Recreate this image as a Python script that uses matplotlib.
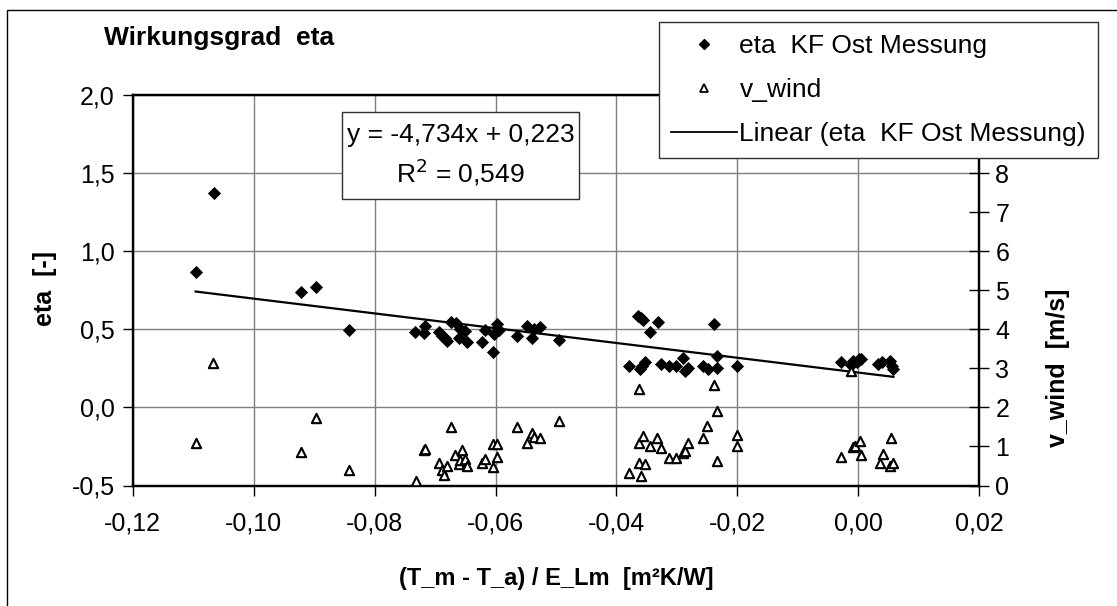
import matplotlib
matplotlib.use("Agg")
import matplotlib.pyplot as plt
from matplotlib.lines import Line2D
from matplotlib.patches import Rectangle
import numpy as np

plt.rcParams['font.family'] = ['Liberation Sans', 'DejaVu Sans']

# ---------------- data ----------------
eta_x = [-0.1096, -0.1066, -0.0922, -0.0897, -0.0842,
         -0.0733, -0.0719, -0.0716, -0.0694, -0.0688, -0.0684, -0.0680, -0.0673,
         -0.0666, -0.0661, -0.0658, -0.0650, -0.0647, -0.0623, -0.0617, -0.0604,
         -0.0602, -0.0597, -0.0595, -0.0564, -0.0548, -0.0540, -0.0537, -0.0527,
         -0.0495,
         -0.0380, -0.0364, -0.0360, -0.0356, -0.0361, -0.0357, -0.0352, -0.0345,
         -0.0332, -0.0326, -0.0313, -0.0302, -0.0290, -0.0286, -0.0282, -0.0257,
         -0.0249, -0.0239, -0.0233, -0.0233, -0.0200,
         -0.0029, -0.0012, -0.0009, -0.0003, 0.0001, 0.0005, 0.0033, 0.0039,
         0.0053, 0.0056, 0.0058]
eta_y = [0.864, 1.370, 0.736, 0.774, 0.493,
         0.480, 0.478, 0.523, 0.485, 0.459, 0.444, 0.427, 0.544,
         0.540, 0.444, 0.502, 0.491, 0.416, 0.416, 0.496, 0.353,
         0.470, 0.534, 0.496, 0.459, 0.523, 0.444, 0.502, 0.512,
         0.432,
         0.263, 0.583, 0.572, 0.561, 0.246, 0.263, 0.288, 0.480,
         0.544, 0.278, 0.263, 0.263, 0.317, 0.235, 0.250, 0.263,
         0.246, 0.534, 0.327, 0.250, 0.263,
         0.293, 0.274, 0.299, 0.293, 0.310, 0.310, 0.278, 0.293,
         0.295, 0.267, 0.246]

wind_x = [-0.1067, -0.1096, -0.0897, -0.0921, -0.0842,
          -0.0732, -0.0719, -0.0716, -0.0694, -0.0688, -0.0686, -0.0680, -0.0673,
          -0.0667, -0.0661, -0.0659, -0.0656, -0.0650, -0.0647, -0.0623, -0.0617,
          -0.0604, -0.0597, -0.0597, -0.0604, -0.0564, -0.0548, -0.0540, -0.0537,
          -0.0527, -0.0495,
          -0.0380, -0.0362, -0.0362, -0.0356, -0.0362, -0.0352, -0.0359, -0.0345,
          -0.0333, -0.0326, -0.0313, -0.0302, -0.0290, -0.0286, -0.0282, -0.0257,
          -0.0250, -0.0239, -0.0233, -0.0233, -0.0200, -0.0200,
          -0.0012, -0.0029, -0.0009, -0.0006, 0.0002, 0.0005, 0.0035, 0.0041,
          0.0054, 0.0053, 0.0057]
wind_v = [3.14, 1.10, 1.72, 0.85, 0.40,
          0.11, 0.90, 0.94, 0.58, 0.40, 0.28, 0.49, 1.51,
          0.79, 0.54, 0.66, 0.90, 0.68, 0.49, 0.58, 0.68,
          1.05, 1.05, 0.72, 0.47, 1.51, 1.09, 1.35, 1.25,
          1.21, 1.66,
          0.33, 2.47, 1.08, 1.26, 0.57, 0.54, 0.24, 1.01,
          1.22, 0.95, 0.70, 0.70, 0.84, 0.88, 1.09, 1.22,
          1.52, 2.58, 1.92, 0.64, 1.30, 1.01,
          2.92, 0.74, 0.98, 1.01, 1.15, 0.79, 0.58, 0.81,
          1.22, 0.49, 0.58]

trend_slope = -4.734
trend_intercept = 0.223

x_ticks = [-0.12, -0.10, -0.08, -0.06, -0.04, -0.02, 0.00, 0.02]
y_ticks = [-0.5, 0.0, 0.5, 1.0, 1.5, 2.0]
y2_ticks = [0, 1, 2, 3, 4, 5, 6, 7, 8, 9, 10]
y2_labels = ['0', '1', '2', '3', '4', '5', '6', '7', '8', '', '']  # 9, 10 hidden by legend

def de(v, nd):
    return f"{v:.{nd}f}".replace('.', ',')

# ---------------- figure ----------------
W, H = 1117, 606
fig = plt.figure(figsize=(W / 100, H / 100), dpi=100)
fig.patch.set_facecolor('white')

# outer chart border (only left/top visible)
fig.patches.append(Rectangle((7 / W, -0.05), 1.2, 1 - 10 / H + 0.05,
                             transform=fig.transFigure, fill=False,
                             edgecolor='black', linewidth=1.0))

L, R = 132.7 / W, 979.3 / W
B, T = 1 - 485.5 / H, 1 - 95 / H
ax = fig.add_axes([L, B, R - L, T - B])
ax.set_xlim(-0.12, 0.02)
ax.set_ylim(-0.5, 2.0)
ax.set_xticks(x_ticks)
ax.set_xticklabels([de(v, 2) for v in x_ticks])
ax.set_yticks(y_ticks)
ax.set_yticklabels([de(v, 1) for v in y_ticks])
ax.grid(True, color='#7f7f7f', linewidth=1.0)
ax.set_axisbelow(True)
ax.tick_params(axis='both', direction='out', length=7, width=1.0,
               labelsize=18, colors='black', pad=6)
ax.tick_params(axis='x', pad=12)
for s in ax.spines.values():
    s.set_linewidth(1.6)
    s.set_color('black')

ax2 = ax.twinx()
ax2.set_ylim(0, 10)
ax2.set_yticks(y2_ticks)
ax2.set_yticklabels(y2_labels)
ax2.tick_params(axis='y', direction='inout', length=15, width=1.0,
                labelsize=18, pad=4)
for s in ax2.spines.values():
    s.set_linewidth(1.6)

# data
ax.scatter(eta_x, eta_y, marker='D', s=45, color='black', linewidths=0, zorder=3)
xt = np.array([min(eta_x), max(eta_x)])
ax.plot(xt, trend_slope * xt + trend_intercept, color='black', linewidth=1.6, zorder=3)
ax2.scatter(wind_x, wind_v, marker='^', s=45, facecolor='white',
            edgecolor='black', linewidths=1.5, zorder=3)

# trendline label box
fig.patches.append(Rectangle((341.7 / W, 1 - 199.3 / H), (579.3 - 341.7) / W,
                             (199.3 - 111.7) / H, transform=fig.transFigure,
                             facecolor='white', edgecolor='#303030', linewidth=1.0,
                             zorder=10))
fig.text(460.5 / W, 1 - 135 / H, 'y = -4,734x + 0,223', ha='center', va='center',
         fontsize=19, zorder=11)
fig.text(460.5 / W, 1 - 172 / H, 'R$^2$ = 0,549', ha='center', va='center',
         fontsize=19, zorder=11)

# legend
handles = [Line2D([], [], marker='D', linestyle='none', color='black', markersize=5),
           Line2D([], [], marker='^', linestyle='none', markerfacecolor='white',
                  markeredgecolor='black', markeredgewidth=1.3, markersize=5.5),
           Line2D([], [], color='black', linewidth=1.3)]
labels = ['eta  KF Ost Messung', 'v_wind', 'Linear (eta  KF Ost Messung)']
leg = ax2.legend(handles, labels, loc='upper left',
                 bbox_to_anchor=(659 / W, 1 - 22 / H), bbox_transform=fig.transFigure,
                 fontsize=19, frameon=True, fancybox=False, framealpha=1,
                 edgecolor='#303030', borderpad=0.45, labelspacing=0.76,
                 handlelength=2.5, handletextpad=0.1, borderaxespad=0)
leg.get_frame().set_linewidth(1.0)
leg.set_zorder(20)

# titles / labels
fig.text(104 / W, 1 - 38 / H, 'Wirkungsgrad  eta', ha='left', va='center',
         fontsize=19, fontweight='bold')
fig.text(556 / W, 1 - 578 / H, '(T_m - T_a) / E_Lm  [m²K/W]', ha='center',
         va='center', fontsize=17, fontweight='bold')
fig.text(45 / W, 1 - 288 / H, 'eta  [-]', ha='center', va='center',
         rotation=90, fontsize=18, fontweight='bold')
fig.text(1058 / W, 1 - 368 / H, 'v_wind  [m/s]', ha='center', va='center',
         rotation=90, fontsize=18, fontweight='bold')

fig.savefig('out.png', dpi=100)
